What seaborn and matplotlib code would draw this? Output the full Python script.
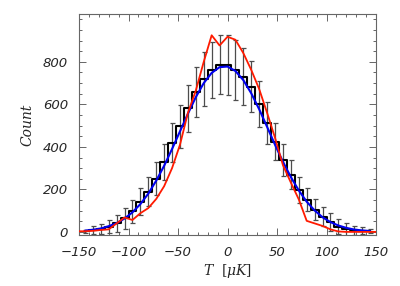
import numpy as np
import matplotlib
matplotlib.use('Agg')
import matplotlib.pyplot as plt
import seaborn as sns
from matplotlib.ticker import MultipleLocator

# bin centres (muK)
temps = [-144, -136, -128, -120, -112, -104, -96, -88, -80, -72, -64, -56, -48,
         -40, -32, -24, -16, -8, 0, 8, 16, 24, 32, 40, 48, 56, 64, 72, 80, 88,
         96, 104, 112, 120, 128, 136, 144]

# histogram counts
counts = [2, 9, 13, 25, 41, 64, 96, 143, 190, 250, 330, 419, 496,
          582, 660, 719, 762, 786, 786, 762, 731, 684, 600, 511, 425, 339, 268, 198, 151, 104,
          72, 48, 25, 12, 8, 5, 3]

# error bars
errors = [8, 20, 25, 32, 40, 48, 55, 62, 70, 78, 85, 92, 100,
          110, 118, 125, 132, 138, 142, 140, 132, 120, 108, 98, 86, 75, 68, 60, 55, 50,
          46, 42, 36, 30, 22, 16, 10]

# fitted curve (blue)
fit = [6, 10, 16, 27, 41, 63, 92, 131, 180, 241, 311, 390, 473,
       556, 634, 700, 748, 775, 778, 757, 714, 652, 577, 494, 410, 330, 258, 195, 142, 101,
       69, 46, 30, 19, 11, 7, 4]

# red curve
red_t = [-150, -144, -136, -128, -120, -112, -104, -96, -88, -80, -72, -64, -56, -48,
         -40, -32, -24, -16, -8, 0, 8, 16, 24, 32, 40, 48, 56, 64, 72, 80, 88,
         96, 104, 112, 120, 128, 136, 144, 150]
red_c = [3, 3, 5, 9, 12, 40, 68, 56, 88, 112, 155, 215, 300, 410,
         560, 665, 800, 925, 877, 918, 904, 841, 762, 672, 560, 443, 314, 232, 153, 52, 40,
         28, 12, 2, 0, 0, 0, 0, 0]

sns.set_style('ticks')
plt.rcParams['font.family'] = ['DejaVu Sans']
plt.rcParams['mathtext.fontset'] = 'dejavuserif'

fig = plt.figure(figsize=(4, 2.86), dpi=100)
ax = fig.add_axes([0.1975, 0.178, 0.7425, 0.773])

ax.errorbar(temps, counts, yerr=errors, fmt='none', ecolor='0.3', elinewidth=0.9,
            capsize=1.8, capthick=0.9, zorder=2)
sns.lineplot(x=temps, y=counts, ax=ax, color='black', lw=1.5, drawstyle='steps-mid', zorder=3)
sns.lineplot(x=temps, y=fit, ax=ax, color='#0000ee', lw=1.5, zorder=4)
sns.lineplot(x=red_t, y=red_c, ax=ax, color='#ff1a00', lw=1.3, zorder=5)

ax.set_xlim(-150, 150)
ax.set_ylim(-15, 1025)
ax.set_xticks([-150, -100, -50, 0, 50, 100, 150])
ax.set_yticks([0, 200, 400, 600, 800])
ax.xaxis.set_minor_locator(MultipleLocator(10))
ax.yaxis.set_minor_locator(MultipleLocator(50))
ax.tick_params(which='both', direction='in', top=True, right=True, color='0.4', width=0.7)
ax.tick_params(which='major', length=5, pad=8, labelsize=9.5)
ax.tick_params(which='minor', length=2.5)
for lab in ax.get_xticklabels() + ax.get_yticklabels():
    lab.set_style('italic')
for s in ax.spines.values():
    s.set_color('0.4')
    s.set_linewidth(0.8)

ax.set_xlabel(r'$T\ \ [\mu K]$', fontsize=10, labelpad=2)
ax.set_ylabel('Count', fontsize=10, style='italic', family='DejaVu Serif', labelpad=6)

fig.savefig('out.png', dpi=100)
